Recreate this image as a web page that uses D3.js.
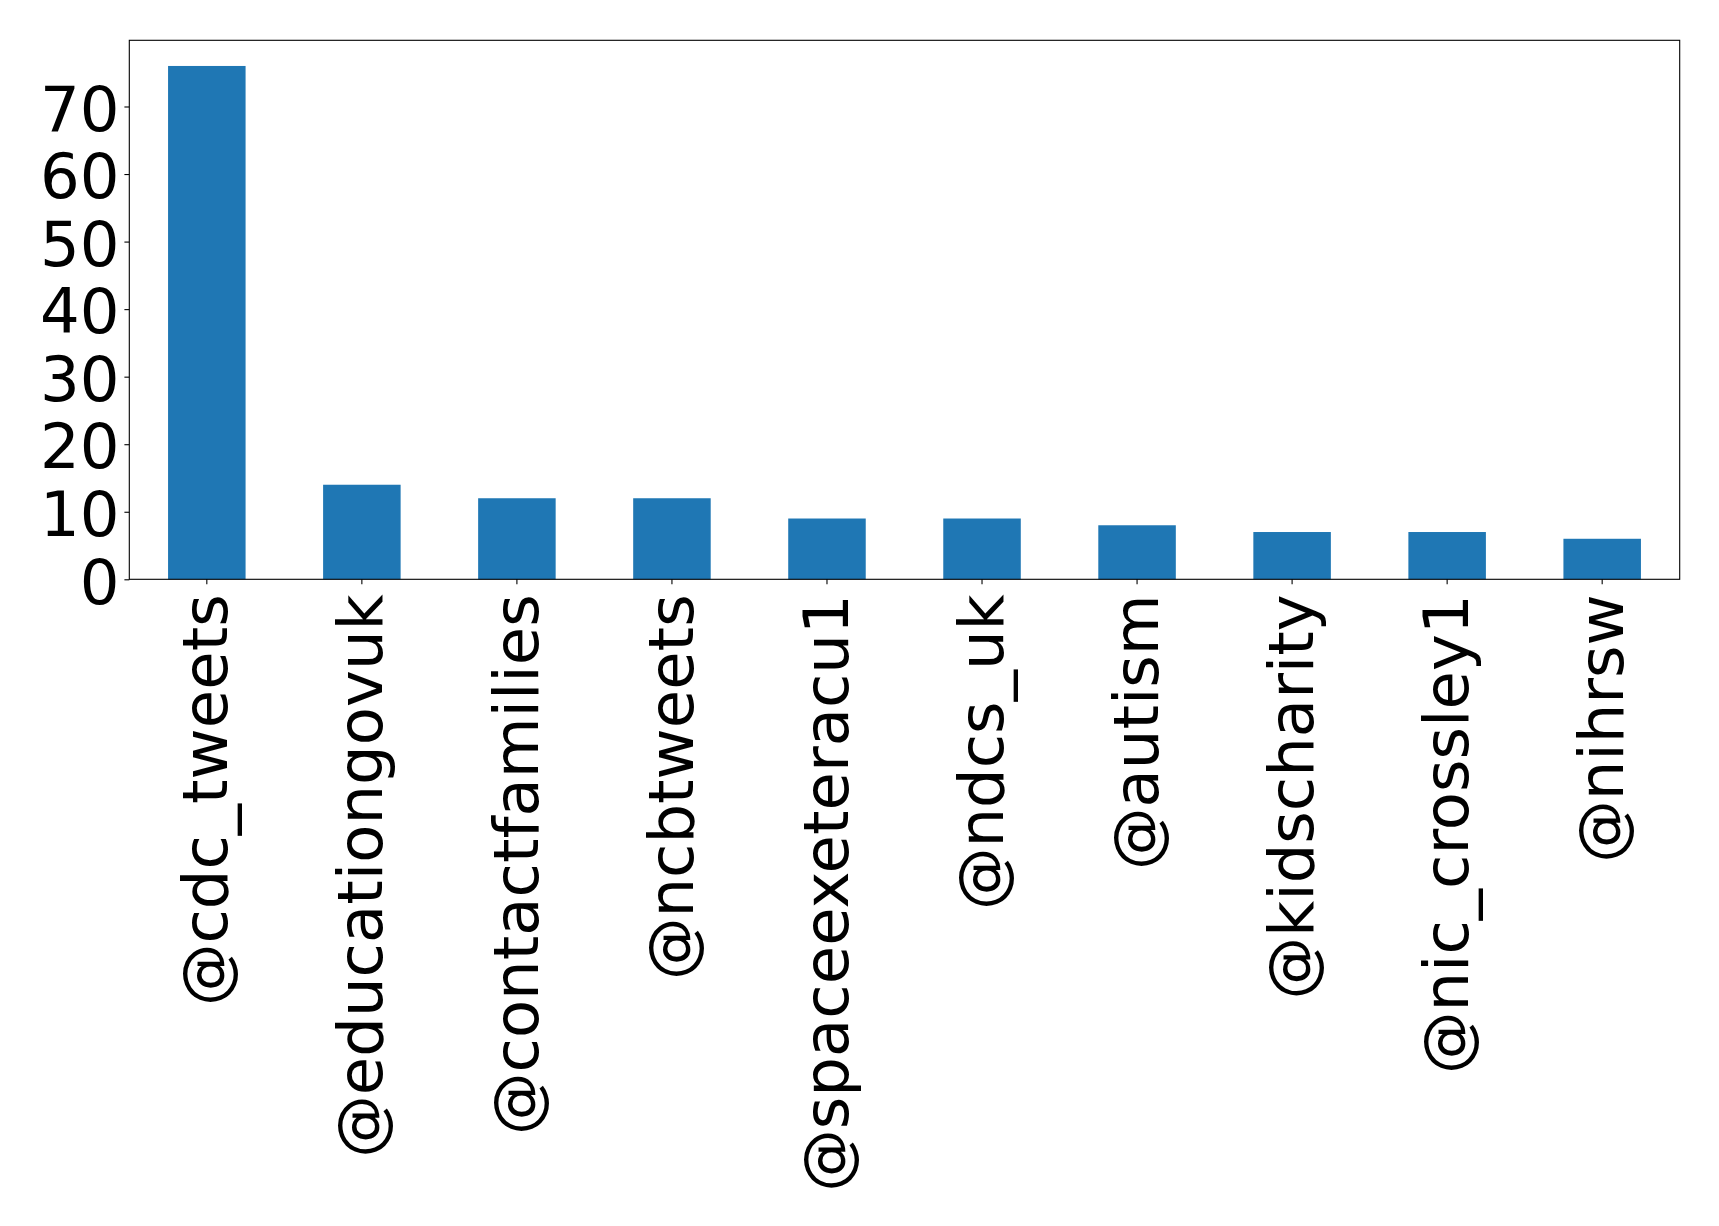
<!DOCTYPE html>
<html>
<head>
<meta charset="utf-8">
<script src="https://cdn.jsdelivr.net/npm/d3@7"></script>
<style>
  html, body { margin: 0; padding: 0; background: #fff; }
  svg { display: block; }
  text { font-family: "DejaVu Sans", sans-serif; fill: #000; }
</style>
</head>
<body>
<svg id="chart" width="1719" height="1226"></svg>
<script>
const categories = ["@cdc_tweets", "@educationgovuk", "@contactfamilies", "@ncbtweets", "@spaceexeteracu1", "@ndcs_uk", "@autism", "@kidscharity", "@nic_crossley1", "@nihrsw"];
const values = [76, 14, 12, 12, 9, 9, 8, 7, 7, 6];
const yTicks = [0, 10, 20, 30, 40, 50, 60, 70];

const W = 1719, H = 1226;
const margin = { left: 129.3, right: W - 1679.7, top: 40.3, bottom: H - 579.3 };
const plotW = W - margin.left - margin.right;
const plotH = H - margin.top - margin.bottom;

const svg = d3.select("#chart");
svg.append("rect").attr("width", W).attr("height", H).attr("fill", "#fff");
const g = svg.append("g").attr("transform", `translate(${margin.left},${margin.top})`);

const x = d3.scaleBand().domain(categories).range([0, plotW]).paddingInner(0.5).paddingOuter(0.25);
const yMax = d3.max(values) * 1.05;
const y = d3.scaleLinear().domain([0, yMax]).range([plotH, 0]);

g.selectAll("rect.bar").data(categories).enter().append("rect")
  .attr("class", "bar")
  .attr("x", d => x(d))
  .attr("width", x.bandwidth())
  .attr("y", (d, i) => y(values[i]))
  .attr("height", (d, i) => y(0) - y(values[i]))
  .attr("fill", "#1f77b4");

const fs = 62.5;

// Y axis
const yAxis = g.append("g").call(d3.axisLeft(y).tickValues(yTicks).tickSize(4.9).tickPadding(5).tickFormat(d3.format("d")));
yAxis.select(".domain").remove();
yAxis.selectAll(".tick line").attr("stroke", "#000").attr("stroke-width", 1.1);
yAxis.selectAll(".tick text").style("font-size", fs + "px").attr("dy", "0.38em").style("font-family", "'DejaVu Sans', sans-serif");

// X axis
const xAxis = g.append("g").attr("transform", `translate(0,${plotH})`)
  .call(d3.axisBottom(x).tickSize(4.9).tickPadding(0));
xAxis.select(".domain").remove();
xAxis.selectAll(".tick line").attr("stroke", "#000").attr("stroke-width", 1.1);
xAxis.selectAll(".tick text")
  .style("font-size", fs + "px")
  .style("font-family", "'DejaVu Sans', sans-serif")
  .attr("text-anchor", "end")
  .attr("transform", "translate(0,15) rotate(-90)")
  .attr("x", 0)
  .attr("y", 0)
  .attr("dy", "0.33em");

// Frame
g.append("rect").attr("x", 0).attr("y", 0).attr("width", plotW).attr("height", plotH)
  .attr("fill", "none").attr("stroke", "#000").attr("stroke-width", 1.1);
</script>
</body>
</html>
